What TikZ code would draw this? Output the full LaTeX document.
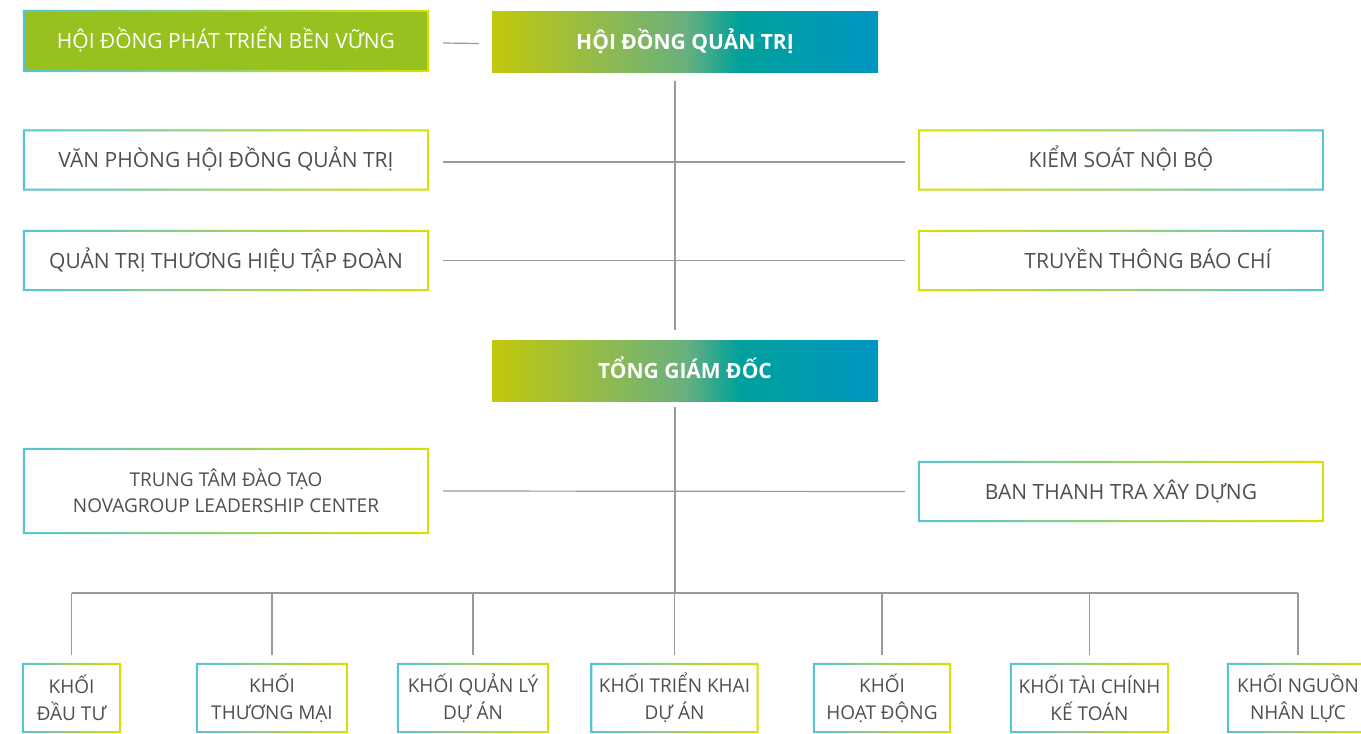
\documentclass[tikz,border=0pt]{standalone}
\usepackage{fontspec}
\setmainfont{Open Sans}
\definecolor{gcyan}{HTML}{55C4D3}
\definecolor{gyellow}{HTML}{D7E100}
\definecolor{fillgreen}{HTML}{97C11F}
\definecolor{txtgrey}{HTML}{4F4F4F}
\definecolor{linegrey}{HTML}{9A9A9A}
\definecolor{gA}{HTML}{C3C80C}
\definecolor{gB}{HTML}{6AB07E}
\definecolor{gC}{HTML}{00A19B}
\definecolor{gD}{HTML}{0096C3}
\pgfdeclarehorizontalshading{headshade}{100bp}{color(0bp)=(gA); color(25bp)=(gA); color(50bp)=(gB); color(57bp)=(gC); color(75bp)=(gD); color(100bp)=(gD)}
\newcommand\gradframe[3]{%
  \shade[even odd rule, left color=#2, right color=#3]
    (#1.south west) rectangle (#1.north east)
    ([xshift=2pt,yshift=2pt]#1.south west) rectangle ([xshift=-2pt,yshift=-2pt]#1.north east);}
\tikzset{
  box/.style={minimum width=406pt, minimum height=61pt, inner sep=0pt,
    text=txtgrey, font=\fontsize{21}{26}\selectfont, align=center},
  oneline/.style={text height=15pt, text depth=0pt},
  headbox/.style={minimum width=386pt, minimum height=61pt, inner sep=0pt,
    shading=headshade, text=white, font=\fontsize{21}{24}\bfseries\selectfont,
    text height=15pt, text depth=0pt},
  unitbox/.style={minimum height=70pt, inner sep=0pt, text=txtgrey,
    font=\fontsize{19}{27}\selectfont, align=center},
  conn/.style={draw=linegrey, line width=1.2pt}
}
\begin{document}
\begin{tikzpicture}[x=1pt, y=-1pt]
\useasboundingbox[fill=white] (0,0) rectangle (1361,734);

% top row
\node[box, oneline, fill=fillgreen, text=white, minimum height=62pt] (ptbv) at (226,41) {HỘI ĐỒNG PHÁT TRIỂN BỀN VỮNG};
\node[headbox] (hdqt) at (685,41.5) {HỘI ĐỒNG QUẢN TRỊ};

% staff under board
\node[box, oneline] (vp) at (226,160) {VĂN PHÒNG HỘI ĐỒNG QUẢN TRỊ};
\node[box, oneline] (ks) at (1121,160) {KIỂM SOÁT NỘI BỘ};
\node[box, oneline] (th) at (226,260.5) {QUẢN TRỊ THƯƠNG HIỆU TẬP ĐOÀN};
\node[box, oneline] (tt) at (1121,260.5) {\hspace*{54pt}TRUYỀN THÔNG BÁO CHÍ};

% CEO
\node[headbox] (tgd) at (685,371) {TỔNG GIÁM ĐỐC};

\node[box, minimum height=86pt, font=\fontsize{19}{26}\selectfont] (dt) at (226,491) {TRUNG TÂM ĐÀO TẠO\\NOVAGROUP LEADERSHIP CENTER};
\node[box, oneline] (tr) at (1121,491.5) {BAN THANH TRA XÂY DỰNG};

% units
\node[unitbox, minimum width=99pt] (b1) at (71.5,698) {KHỐI\\ĐẦU TƯ};
\node[unitbox, minimum width=152pt] (b2) at (272,698) {KHỐI\\THƯƠNG MẠI};
\node[unitbox, minimum width=152pt] (b3) at (473,698) {KHỐI QUẢN LÝ\\DỰ ÁN};
\node[unitbox, minimum width=168pt] (b4) at (674.5,698) {KHỐI TRIỂN KHAI\\DỰ ÁN};
\node[unitbox, minimum width=138pt] (b5) at (882,698) {KHỐI\\HOẠT ĐỘNG};
\node[unitbox, minimum width=159pt] (b6) at (1089.5,698) {KHỐI TÀI CHÍNH\\KẾ TOÁN};
\node[unitbox, minimum width=142pt] (b7) at (1298,698) {KHỐI NGUỒN\\NHÂN LỰC};

% frames
\gradframe{ptbv}{gcyan}{gyellow}
\gradframe{vp}{gcyan}{gyellow}
\gradframe{th}{gcyan}{gyellow}
\gradframe{ks}{gyellow}{gcyan}
\gradframe{tt}{gyellow}{gcyan}
\gradframe{dt}{gcyan}{gyellow}
\gradframe{tr}{gcyan}{gyellow}
\foreach \b in {b1,b2,b3,b4,b5,b6,b7}{\gradframe{\b}{gcyan}{gyellow}}

% connectors
\coordinate (s1top) at (675,81);
\coordinate (s1bot) at (675,330);
\coordinate (s2top) at (675,407);
\coordinate (busL) at (72,593);
\coordinate (busR) at (1298,593);

\draw[conn] ([xshift=14pt,yshift=-2pt]ptbv.east) -- ([xshift=-13pt,yshift=-2pt]hdqt.west);
\draw[conn] (s1top) -- (s1bot);
\draw[conn] ([xshift=14pt,yshift=-2pt]vp.east) -- ([xshift=-13pt,yshift=-2pt]ks.west);
\draw[conn] ([xshift=14pt]th.east) -- ([xshift=-13pt]tt.west);
\draw[conn] ([xshift=14pt]dt.east) -- ([xshift=-13pt]tr.west);
\draw[conn] (s2top) -- (s2top |- busL);
\draw[conn] (busL) -- (busR);
\foreach \b in {b1,b2,b3,b4,b5,b6,b7}{
  \draw[conn] (\b.north |- busL) -- ([yshift=8pt]\b.north);
}
\end{tikzpicture}
\end{document}
